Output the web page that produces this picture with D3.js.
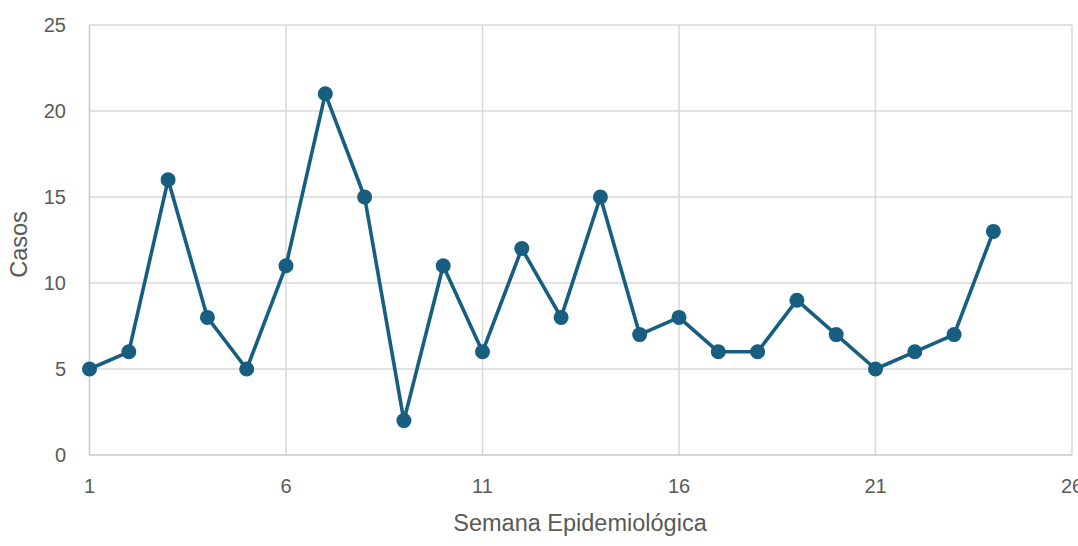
<!DOCTYPE html>
<html><head><meta charset="utf-8">
<script src="https://cdn.jsdelivr.net/npm/d3@7"></script>
<style>body{margin:0;background:#fff;} svg{display:block;}</style>
</head><body>
<svg id="c" width="1078" height="546"></svg>
<script>
const weeks = [1,2,3,4,5,6,7,8,9,10,11,12,13,14,15,16,17,18,19,20,21,22,23,24];
const cases = [5,6,16,8,5,11,21,15,2,11,6,12,8,15,7,8,6,6,9,7,5,6,7,13];
const xTicks = [1,6,11,16,21,26];
const yTicks = [0,5,10,15,20,25];
const xTitle = "Semana Epidemiológica";
const yTitle = "Casos";

(function(){
const svg = d3.select("#c");
const pL = 89.5, pR = 1072, pT = 25, pB = 455;
const x = d3.scaleLinear().domain([1,26]).range([pL,pR]);
const y = d3.scaleLinear().domain([0,25]).range([pB,pT]);
const font = "'Liberation Sans', Arial, sans-serif";

svg.append("g").selectAll("line").data(yTicks.filter(d=>d>0)).join("line")
  .attr("x1",pL).attr("x2",pR).attr("y1",d=>y(d)).attr("y2",d=>y(d))
  .attr("stroke","#d9d9d9").attr("stroke-width",1.5);
svg.append("g").selectAll("line").data(xTicks.filter(d=>d>1)).join("line")
  .attr("x1",d=>x(d)).attr("x2",d=>x(d)).attr("y1",pT).attr("y2",pB)
  .attr("stroke","#d9d9d9").attr("stroke-width",1.5);
svg.append("line").attr("x1",pL).attr("x2",pL).attr("y1",pT).attr("y2",pB).attr("stroke","#c8c8c8").attr("stroke-width",1.5);
svg.append("line").attr("x1",pL).attr("x2",pR).attr("y1",pB).attr("y2",pB).attr("stroke","#c8c8c8").attr("stroke-width",1.5);

svg.append("g").selectAll("text").data(yTicks).join("text")
  .attr("x",66).attr("y",d=>y(d)).attr("dy","0.35em").attr("text-anchor","end")
  .attr("font-family",font).attr("font-size",20).attr("fill","#595959").text(d=>d);
svg.append("g").selectAll("text").data(xTicks).join("text")
  .attr("x",d=>x(d)).attr("y",486).attr("dy","0.35em").attr("text-anchor","middle")
  .attr("font-family",font).attr("font-size",20).attr("fill","#595959").text(d=>d);

svg.append("text").attr("x",580).attr("y",523).attr("dy","0.35em").attr("text-anchor","middle")
  .attr("font-family",font).attr("font-size",23.5).attr("fill","#595959").text(xTitle);
svg.append("text").attr("transform","translate(18.5,244.5) rotate(-90)").attr("dy","0.35em").attr("text-anchor","middle")
  .attr("font-family",font).attr("font-size",23.5).attr("fill","#595959").text(yTitle);

const data = weeks.map((w,i)=>({w, v:cases[i]}));
svg.append("path").datum(data)
  .attr("d", d3.line().x(d=>x(d.w)).y(d=>y(d.v)))
  .attr("fill","none").attr("stroke","#175e81").attr("stroke-width",3.6).attr("stroke-linejoin","round");
svg.append("g").selectAll("circle").data(data).join("circle")
  .attr("cx",d=>x(d.w)).attr("cy",d=>y(d.v)).attr("r",7.5)
  .attr("fill","#175e81");
})();
</script>
</body></html>
